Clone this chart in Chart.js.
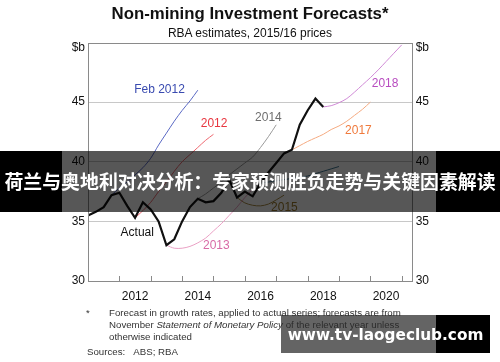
<!DOCTYPE html>
<html>
<head>
<meta charset="utf-8">
<script src="https://cdn.jsdelivr.net/npm/chart.js@4.4.0/dist/chart.umd.min.js"></script>
<style>
body { margin: 0; background: #fff; }
#wrap { position: relative; width: 500px; height: 362px; overflow: hidden; font-family: "Liberation Sans", Arial, sans-serif; color: #111; }
#chart { position: absolute; left: 0; top: 0; }
#title { position: absolute; left: 0; width: 500px; top: 4px; text-align: center; font-weight: bold; font-size: 16.8px; }
#subtitle { position: absolute; left: 0; width: 500px; top: 26px; text-align: center; font-size: 12px; }
#notes { position: absolute; left: 0; top: 307px; font-size: 9.7px; line-height: 11.8px; color: #333; }
#notes .star { position: absolute; left: 86px; top: 0; }
#notes .txt { position: absolute; left: 109px; top: 0; white-space: nowrap; }
#notes .src { position: absolute; left: 87px; top: 39px; white-space: nowrap; }
#banner { position: absolute; left: 0; top: 151px; width: 500px; height: 61px; background: rgba(0,0,0,0.66); }
#banner .l { position: absolute; left: 0; top: 0; width: 62px; height: 61px; background: #000; }
#banner .r { position: absolute; left: 436px; top: 0; width: 64px; height: 61px; background: #000; }
#banner .t { position: absolute; left: 0; width: 500px; top: 17px; text-align: center; color: #fff; font-weight: bold; font-size: 18.9px; line-height: 26px; font-family: "Noto Sans CJK SC", sans-serif; white-space: nowrap; }
#mark { position: absolute; left: 281px; top: 315px; width: 209px; height: 38px; background: rgba(40,40,40,0.72); }
#mark .r { position: absolute; left: 155px; top: 0; width: 54px; height: 38px; background: #000; }
#mark .t { position: absolute; left: 0; width: 209px; top: 9px; text-align: center; color: #fff; font-weight: bold; font-size: 15.3px; line-height: 22px; font-family: "DejaVu Sans", sans-serif; white-space: nowrap; }
</style>
</head>
<body>
<div id="wrap">
<canvas id="chart" width="500" height="362"></canvas>
<div id="title">Non-mining Investment Forecasts*</div>
<div id="subtitle">RBA estimates, 2015/16 prices</div>
<div id="notes">
  <span class="star">*</span>
  <div class="txt">Forecast in growth rates, applied to actual series; forecasts are from<br>November <i>Statement of Monetary Policy</i> of the relevant year unless<br>otherwise indicated</div>
  <div class="src">Sources:&nbsp;&nbsp;&nbsp;ABS; RBA</div>
</div>
<div id="banner"><div class="l"></div><div class="r"></div><div class="t">荷兰与奥地利对决分析：专家预测胜负走势与关键因素解读</div></div>
<div id="mark"><div class="r"></div><div class="t">www.tv-laogeclub.com</div></div>
</div>
<script>
// quarters (decimal years) used as x values
const quarters = [2011.00, 2011.25, 2011.50, 2011.75, 2012.00, 2012.25, 2012.50, 2012.75,
    2013.00, 2013.25, 2013.50, 2013.75, 2014.00, 2014.25, 2014.50, 2014.75,
    2015.00, 2015.25, 2015.50, 2015.75, 2016.00, 2016.25, 2016.50, 2016.75,
    2017.00, 2017.25, 2017.50, 2017.75, 2018.00, 2018.25, 2018.50, 2018.75,
    2019.00, 2019.25, 2019.50, 2019.75, 2020.00, 2020.25, 2020.50, 2020.75, 2021.00];

const actual = [35.5, 35.8, 36.2, 37.2, 37.4, 36.3, 35.3, 36.6, 36.0, 35.0, 33.0, 33.5,
    35.0, 36.2, 36.9, 36.6, 36.7, 37.4, 38.5, 37.0, 37.5, 37.1, 38.2, 39.1,
    39.9, 40.7, 41.0, 43.1, 44.3, 45.3, 44.6];

// forecasts, each starts at the given quarter
const feb2012Start = 2011.75;
const feb2012 = [37.2, 37.8, 38.3, 38.9, 39.5, 40.3, 41.4, 42.4, 43.4, 44.3, 45.1, 46.0];
const f2012Start = 2012.50;
const f2012 = [35.3, 35.9, 36.6, 37.5, 38.3, 39.2, 40.0, 40.6, 41.2, 41.8, 42.3];
const f2013Start = 2013.50;
const f2013 = [33.0, 32.75, 32.75, 32.9, 33.2, 33.6, 34.2, 34.8, 35.5, 36.2, 37.0, 37.7];
const f2014Start = 2014.50;
const f2014 = [36.9, 37.3, 37.8, 38.3, 38.9, 39.4, 39.9, 40.4, 41.2, 42.1, 43.1];
const f2015Start = 2015.75;
const f2015 = [37.0, 36.55, 36.35, 36.3, 36.45, 36.8, 37.2];
const f2016Start = 2016.50;
const f2016 = [38.2, 38.3, 38.4, 38.5, 38.6, 38.7, 38.8, 39.0, 39.2, 39.4, 39.6];
const f2017Start = 2017.50;
const f2017 = [41.0, 41.35, 41.7, 42.0, 42.3, 42.7, 43.0, 43.4, 43.9, 44.4, 45.0];
const f2018Start = 2018.50;
const f2018 = [44.6, 44.7, 44.95, 45.3, 45.85, 46.45, 47.05, 47.7, 48.4, 49.1, 49.8];

const yearTicks = [2012, 2013, 2014, 2015, 2016, 2017, 2018, 2019, 2020, 2021];
const yearLabels = [2012.5, 2014.5, 2016.5, 2018.5, 2020.5];

// series labels: text, x (year), y ($b), colour
const labelText = ['Feb 2012', '2012', '2013', '2014', '2015', '2017', '2018', 'Actual'];
const labelX = [2013.28, 2015.02, 2015.09, 2016.75, 2017.26, 2019.62, 2020.47, 2012.57];
const labelY = [46.05, 43.17, 33.0, 43.72, 36.13, 42.63, 46.53, 34.09];
const labelColor = ['#3a4bb0', '#e8363f', '#d86aa6', '#6e6e6e', '#9c7a2a', '#f07a3c', '#b84cc0', '#111'];

function series(start, values) {
    const i0 = quarters.indexOf(start);
    return values.map((v, i) => ({ x: quarters[i0 + i], y: v }));
}

function forecast(data, color) {
    return {
        data: data, borderColor: color, borderWidth: 1, pointRadius: 0,
        tension: 0.3, order: 1, fill: false
    };
}

const decor = {
    id: 'decor',
    afterDatasetsDraw(chart) {
        const { ctx, chartArea: a, scales } = chart;
        ctx.save();
        ctx.strokeStyle = '#8a8a8a';
        ctx.lineWidth = 1;
        ctx.strokeRect(Math.round(a.left) + 0.5, Math.round(a.top) + 0.5,
            Math.round(a.width) - 1, Math.round(a.height) - 1);
        ctx.beginPath();
        yearTicks.forEach(v => {
            const x = Math.round(scales.x.getPixelForValue(v)) + 0.5;
            ctx.moveTo(x, a.bottom);
            ctx.lineTo(x, a.bottom - 5);
        });
        ctx.stroke();

        ctx.font = '12px "Liberation Sans", Arial, sans-serif';
        ctx.fillStyle = '#111';
        ctx.textBaseline = 'middle';
        ctx.textAlign = 'right';
        ctx.fillText('$b', a.left - 3, a.top + 5);
        ctx.textAlign = 'left';
        ctx.fillText('$b', a.right + 3, a.top + 5);

        ctx.textAlign = 'center';
        labelText.forEach((t, i) => {
            ctx.fillStyle = labelColor[i];
            ctx.fillText(t, scales.x.getPixelForValue(labelX[i]), scales.y.getPixelForValue(labelY[i]));
        });
        ctx.restore();
    }
};

const tickFont = { family: '"Liberation Sans", Arial, sans-serif', size: 12 };

new Chart(document.getElementById('chart'), {
    type: 'line',
    data: {
        datasets: [
            {
                data: series(2011.00, actual), borderColor: '#111', borderWidth: 2.2,
                pointRadius: 0, tension: 0, order: 0, fill: false
            },
            forecast(series(feb2012Start, feb2012), '#5a69c4'),
            forecast(series(f2012Start, f2012), '#ee6870'),
            forecast(series(f2013Start, f2013), '#eaa0c4'),
            forecast(series(f2014Start, f2014), '#9a9a9a'),
            forecast(series(f2015Start, f2015), '#a88a44'),
            forecast(series(f2016Start, f2016), '#3f7592'),
            forecast(series(f2017Start, f2017), '#f5aa80'),
            forecast(series(f2018Start, f2018), '#d08ad6')
        ]
    },
    options: {
        responsive: false,
        animation: false,
        layout: { padding: { top: 42.5, left: 0, right: 0, bottom: 0 } },
        plugins: { legend: { display: false }, title: { display: false }, tooltip: { enabled: false } },
        scales: {
            x: {
                type: 'linear', min: 2011, max: 2021.35,
                afterBuildTicks: axis => { axis.ticks = yearLabels.map(v => ({ value: v })); },
                afterFit: scale => { scale.height = 81; },
                grid: { display: false, drawTicks: false },
                border: { display: false },
                ticks: { padding: 8, color: '#111', font: tickFont, maxRotation: 0, callback: v => String(Math.floor(v)) }
            },
            y: {
                position: 'left', min: 30, max: 50,
                afterFit: scale => { scale.width = 88; },
                grid: {
                    drawTicks: false,
                    color: c => (c.tick.value === 30 || c.tick.value === 50) ? 'rgba(0,0,0,0)' : '#c8c8c8'
                },
                border: { display: false },
                ticks: { stepSize: 5, padding: 3, color: '#111', font: tickFont, callback: v => v === 50 ? '' : v }
            },
            y2: {
                position: 'right', min: 30, max: 50,
                afterFit: scale => { scale.width = 87.3; },
                grid: { display: false, drawTicks: false },
                border: { display: false },
                ticks: { stepSize: 5, padding: 3, color: '#111', font: tickFont, callback: v => v === 50 ? '' : v }
            }
        }
    },
    plugins: [decor]
});
</script>
</body>
</html>
